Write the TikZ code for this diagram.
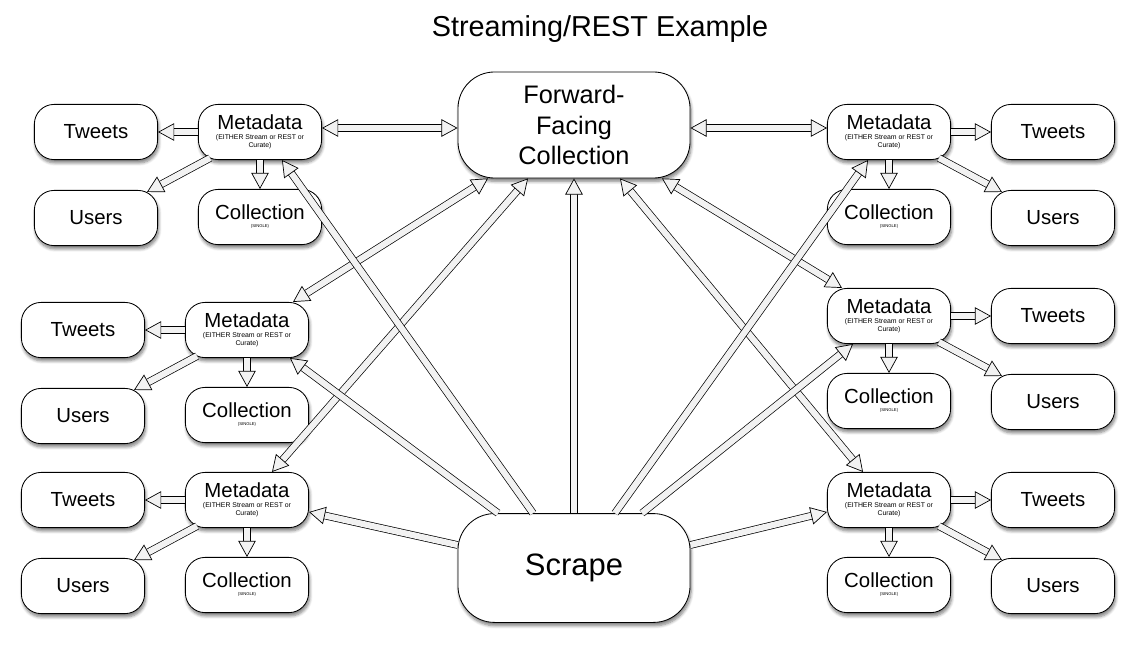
\documentclass[tikz,border=0pt]{standalone}
\usepackage{fontspec}
\setmainfont{Liberation Sans}
\usetikzlibrary{arrows.meta,calc,shadows.blur}
\newcommand{\smallnote}[1]{{\fontsize{4.9}{5.5}\selectfont\begin{tabular}[t]{@{}c@{}}#1\end{tabular}}}

\begin{document}
\begin{tikzpicture}[x=0.025cm, y=-0.025cm,
  box/.style={rectangle, rounded corners=14pt, draw=black, line width=0.6pt, fill=white, minimum width=3.08cm, minimum height=1.38cm, align=center, inner sep=1pt, font=\fontsize{14.5}{16}\selectfont, blur shadow={shadow xshift=0.8pt, shadow yshift=-2.4pt, shadow blur steps=6, shadow opacity=50}},
  bigbox/.style={box, rounded corners=26pt, minimum width=5.8cm, minimum height=2.65cm},
  >={Triangle[length=11.5pt, width=12.5pt, line width=0.5pt, fill=gray!10]},
  fat/.style={->, line width=0.5pt, double=gray!10, double distance=4.4pt},
  fatboth/.style={fat, <->},
]
  \useasboundingbox (0,0) rectangle (1136,644);
  \node[font=\fontsize{20.5}{24}\selectfont] (title) at (600,29) {Streaming/REST Example};
  \node[bigbox, font=\fontsize{18}{21.5}\selectfont] (ffc) at (574,125) {Forward-\\Facing\\Collection};
  \node[bigbox, minimum height=2.72cm, font=\fontsize{22}{26}\selectfont] (scrape) at (574,568) {\raisebox{-2pt}{Scrape}};
  \foreach \g/\mx/\tx/\my/\s in {tl/260/96/132/-1, ml/247/83/330/-1, bl/247/83/500/-1, tr/889/1053/132/1, mr/889/1053/316/1, br/889/1053/500/1} {
    \node[box] (\g meta) at (\mx,\my) {Metadata\\[-8.5pt]\smallnote{(EITHER Stream or REST or\\Curate)}};
    \node[box] (\g tweets) at (\tx,\my) {Tweets};
    \node[box] (\g users) at (\tx,{\my+86}) {Users};
    \node[box] (\g coll) at (\mx,{\my+85}) {Collection\\[-10.3pt]{\fontsize{3}{3.5}\selectfont(SINGLE)}};
    \draw[fat] (\g meta) -- (\g tweets);
    \draw[fat] (\g meta) -- (\g coll);
    \draw[fat] ($(\g meta.south)+({\s*50},-2)$) -- ($(\g users.north)+({\s*(-51)},2)$);
  }
  \draw[fatboth] ($(tlmeta.east)+(0,-4)$) -- ($(ffc.west)+(0,3)$);
  \draw[fatboth] ($(trmeta.west)+(0,-4)$) -- ($(ffc.east)+(0,3)$);
  \draw[fatboth] ($(ffc.south)+(-86,0)$) -- ($(mlmeta.north)+(46,0)$);
  \draw[fatboth] ($(ffc.south)+(-46,0)$) -- ($(blmeta.north)+(25,0)$);
  \draw[fatboth] ($(ffc.south)+(88,0)$) -- ($(mrmeta.north)+(-47,0)$);
  \draw[fatboth] ($(ffc.south)+(46,0)$) -- ($(brmeta.north)+(-26,0)$);
  \draw[fat] (scrape) -- (ffc);
  \draw[fat] ($(scrape.north)+(-41,0)$) -- ($(tlmeta.south)+(22,0)$);
  \draw[fat] ($(scrape.north)+(-76,0)$) -- ($(mlmeta.south)+(43,0)$);
  \draw[fat] ($(scrape.west)+(0,-23)$) -- ($(blmeta.east)+(0,12)$);
  \draw[fat] ($(scrape.north)+(41,0)$) -- ($(trmeta.south)+(-21,0)$);
  \draw[fat] ($(scrape.north)+(68,0)$) -- ($(mrmeta.south)+(-36,0)$);
  \draw[fat] ($(scrape.east)+(0,-23)$) -- ($(brmeta.west)+(0,12)$);
\end{tikzpicture}
\end{document}
